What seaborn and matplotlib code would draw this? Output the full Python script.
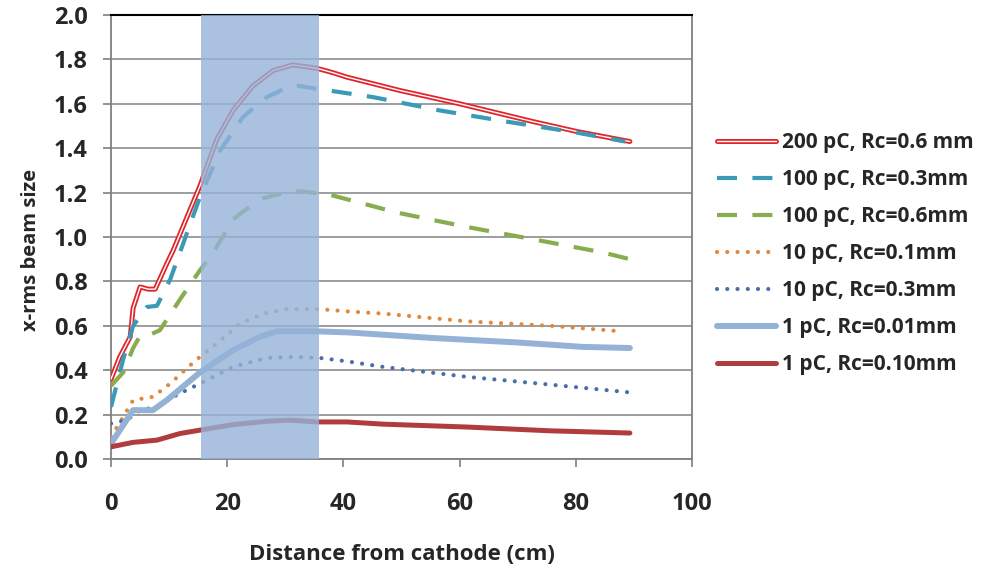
import matplotlib
matplotlib.use("Agg")
import matplotlib.pyplot as plt
import matplotlib.patheffects as pe
import seaborn as sns

# --- data: distance from cathode (cm) and x-rms beam size ---
x_200_06 = [0, 1.5, 3.3, 3.8, 5.0, 6.4, 7.6, 9.6, 10.7, 15.3, 18.2, 21, 24.4, 27.9,
            31.3, 35.4, 38.2, 40.6, 49.7, 60, 72.6, 80.2, 89.3]
y_200_06 = [0.36, 0.46, 0.55, 0.68, 0.775, 0.765, 0.765, 0.88, 0.94, 1.23, 1.44, 1.57,
            1.68, 1.75, 1.775, 1.76, 1.74, 1.72, 1.66, 1.60, 1.52, 1.475, 1.43]

x_100_03 = [0, 2.1, 3.8, 6.2, 7.9, 10.2, 15.3, 18.8, 22.7, 26.8, 31.3, 34.8, 40,
            45.1, 56.6, 68, 80.2, 88.5]
y_100_03 = [0.235, 0.45, 0.60, 0.685, 0.69, 0.81, 1.18, 1.39, 1.54, 1.63, 1.685, 1.67,
            1.65, 1.63, 1.57, 1.52, 1.47, 1.43]

x_100_06 = [0, 2.1, 3.8, 5.0, 6.7, 8.4, 11.9, 15.3, 17.6, 21, 25.6, 31.3, 37.7,
            49.2, 61.3, 72.6, 84.7, 89.3]
y_100_06 = [0.33, 0.39, 0.50, 0.555, 0.56, 0.58, 0.72, 0.85, 0.93, 1.08, 1.17, 1.21,
            1.19, 1.11, 1.045, 0.99, 0.93, 0.90]

x_10_01 = [0, 2.1, 3.8, 7.2, 10.2, 13.1, 15.3, 18.2, 22.2, 26.2, 30.3, 36, 40.6,
           46.8, 61.3, 75.6, 87.9]
y_10_01 = [0.10, 0.19, 0.265, 0.28, 0.34, 0.41, 0.46, 0.52, 0.61, 0.655, 0.675, 0.675,
           0.665, 0.655, 0.62, 0.60, 0.575]

x_10_03 = [0, 2.7, 5.0, 7.9, 10.7, 15.3, 21, 26.8, 31.3, 36, 40.6, 46.8, 61.3, 75.6, 89.3]
y_10_03 = [0.16, 0.175, 0.22, 0.235, 0.28, 0.34, 0.415, 0.455, 0.46, 0.455, 0.44,
           0.415, 0.37, 0.335, 0.30]

x_1_001 = [0, 3.8, 7.2, 9.6, 15.3, 21, 25.6, 28.5, 35.4, 41, 55.4, 69.9, 81.2, 89.3]
y_1_001 = [0.07, 0.22, 0.22, 0.265, 0.39, 0.49, 0.55, 0.575, 0.575, 0.57, 0.545,
           0.525, 0.505, 0.50]

x_1_010 = [0, 3.8, 7.9, 11.9, 15.3, 21, 26.8, 30.8, 35.4, 40.6, 46.8, 61.3, 75.6, 89.3]
y_1_010 = [0.055, 0.075, 0.085, 0.115, 0.13, 0.155, 0.17, 0.175, 0.167, 0.167,
           0.157, 0.144, 0.127, 0.117]

labels = ["200 pC, Rc=0.6 mm", "100 pC, Rc=0.3mm", "100 pC, Rc=0.6mm",
          "10 pC, Rc=0.1mm", "10 pC, Rc=0.3mm", "1 pC, Rc=0.01mm", "1 pC, Rc=0.10mm"]

band_start, band_end = 15.5, 35.8
x_ticks = [0, 20, 40, 60, 80, 100]
y_ticks = [0.0, 0.2, 0.4, 0.6, 0.8, 1.0, 1.2, 1.4, 1.6, 1.8, 2.0]

# --- style ---
sns.set_theme(style="white")
plt.rcParams["font.family"] = ["Open Sans", "DejaVu Sans"]
plt.rcParams["font.weight"] = "bold"
TICK_FS = 17
XLAB_FS = 16
YLAB_FS = 14.5
LEG_FS = 15

fig = plt.figure(figsize=(9.95, 5.65), dpi=100)
ax = fig.add_axes([0.1116, 0.1876, 0.5839, 0.7859])

dot = dict(linestyle=(0, (0.01, 2.45)), dash_capstyle="round")
dash = dict(linestyle=(0, (4.8, 3.7)), dash_capstyle="butt")

sns.lineplot(x=x_200_06, y=y_200_06, ax=ax, sort=False, color="white", linewidth=1.0,
             label=labels[0], zorder=3,
             path_effects=[pe.Stroke(linewidth=3.6, foreground="#e0262c"), pe.Normal()])
sns.lineplot(x=x_100_03, y=y_100_03, ax=ax, sort=False, color="#3b9ab8", linewidth=3.0,
             label=labels[1], zorder=3, **dash)
sns.lineplot(x=x_100_06, y=y_100_06, ax=ax, sort=False, color="#87ad4f", linewidth=3.0,
             label=labels[2], zorder=3, **dash)
sns.lineplot(x=x_10_01, y=y_10_01, ax=ax, sort=False, color="#e0883d", linewidth=3.0,
             label=labels[3], zorder=3, **dot)
sns.lineplot(x=x_10_03, y=y_10_03, ax=ax, sort=False, color="#4a6ea8", linewidth=3.0,
             label=labels[4], zorder=3, **dot)
sns.lineplot(x=x_1_001, y=y_1_001, ax=ax, sort=False, color="#94b2d6", linewidth=4.3,
             label=labels[5], zorder=3)
sns.lineplot(x=x_1_010, y=y_1_010, ax=ax, sort=False, color="#b03c3d", linewidth=3.6,
             label=labels[6], zorder=3)

# highlighted region
ax.axvspan(band_start, band_end, color="#95b3d9", alpha=0.8, lw=0, zorder=5)

ax.set_xlim(0, 100)
ax.set_ylim(0, 2.0)
ax.set_xticks(x_ticks)
ax.set_yticks(y_ticks)
ax.set_yticklabels([f"{v:.1f}" for v in y_ticks])
ax.grid(axis="y", color="#8c8c8c", linewidth=1.2, zorder=1)
ax.set_axisbelow(True)

for side in ["left", "bottom", "right"]:
    ax.spines[side].set_color("#7f7f7f")
    ax.spines[side].set_linewidth(1.3)
ax.spines["top"].set_color("black")
ax.spines["top"].set_linewidth(1.5)

ax.tick_params(axis="both", which="major", direction="out", length=6, width=1.2,
               color="#7f7f7f", labelsize=TICK_FS, left=True, bottom=True)
ax.tick_params(axis="x", pad=18)
ax.tick_params(axis="y", pad=11)
for t in ax.get_xticklabels() + ax.get_yticklabels():
    t.set_fontweight("bold")

ax.set_xlabel("Distance from cathode (cm)", fontsize=XLAB_FS, fontweight="bold",
              labelpad=20)
ax.set_ylabel("x-rms beam size", fontsize=YLAB_FS, fontweight="bold")
ax.yaxis.set_label_coords(-0.12, 0.47)

leg = ax.legend(loc="center left", bbox_to_anchor=(1.043, 0.462), frameon=False,
                fontsize=LEG_FS, handlelength=2.85, handletextpad=0.25,
                labelspacing=0.77, borderaxespad=0, borderpad=0)
for t in leg.get_texts():
    t.set_fontweight("bold")

fig.savefig("out.png", dpi=100)
